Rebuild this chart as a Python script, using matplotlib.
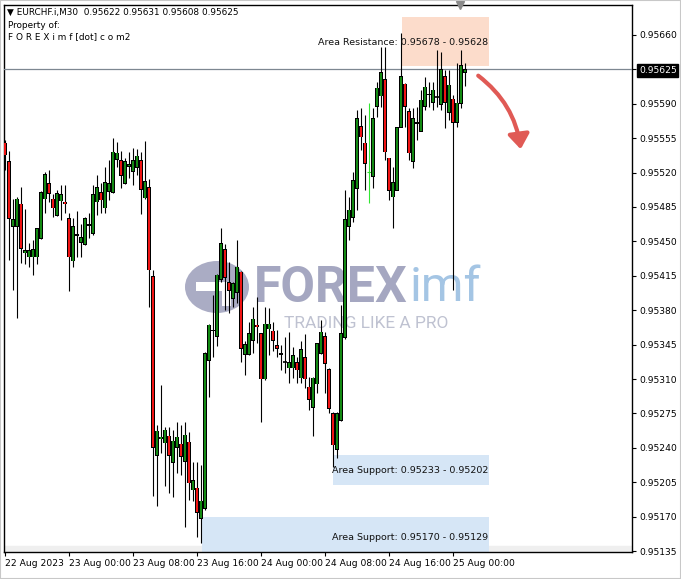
import matplotlib
matplotlib.use("Agg")
import matplotlib.pyplot as plt
from matplotlib.patches import Rectangle, FancyArrowPatch, Ellipse

# ---------------- data (EURCHF.i, M30) ----------------
opens = [0.95550, 0.95531, 0.95465, 0.95465, 0.95488, 0.95438, 0.95434, 0.95434, 0.95434, 0.95453,
         0.95493, 0.95509, 0.95493, 0.95476, 0.95491, 0.95490, 0.95473, 0.95430, 0.95456, 0.95449,
         0.95447, 0.95466, 0.95458, 0.95490, 0.95500, 0.95484, 0.95501, 0.95500, 0.95533, 0.95532,
         0.95509, 0.95526, 0.95521, 0.95525, 0.95532, 0.95494, 0.95505, 0.95414, 0.95232, 0.95249,
         0.95245, 0.95252, 0.95225, 0.95240, 0.95244, 0.95226, 0.95246, 0.95197, 0.95199, 0.95168,
         0.95178, 0.95329, 0.95359, 0.95353, 0.95411, 0.95442, 0.95408, 0.95392, 0.95398, 0.95419,
         0.95335, 0.95335, 0.95349, 0.95365, 0.95356, 0.95310, 0.95361, 0.95359, 0.95344, 0.95336,
         0.95327, 0.95321, 0.95321, 0.95327, 0.95311, 0.95332, 0.95302, 0.95281, 0.95305, 0.95336,
         0.95353, 0.95320, 0.95275, 0.95238, 0.95268, 0.95352, 0.95465, 0.95474, 0.95504, 0.95567,
         0.95550, 0.95521, 0.95516, 0.95587, 0.95598, 0.95615, 0.95535, 0.95495, 0.95502, 0.95566,
         0.95610, 0.95582, 0.95531, 0.95571, 0.95562, 0.95587, 0.95599, 0.95591, 0.95597, 0.95589,
         0.95618, 0.95581, 0.95595, 0.95571, 0.95590, 0.95622]
highs = [0.95553, 0.95542, 0.95493, 0.95495, 0.95505, 0.95483, 0.95448, 0.95451, 0.95464, 0.95501,
         0.95521, 0.95523, 0.95498, 0.95502, 0.95507, 0.95507, 0.95479, 0.95474, 0.95481, 0.95468,
         0.95475, 0.95479, 0.95507, 0.95518, 0.95509, 0.95526, 0.95533, 0.95555, 0.95551, 0.95542,
         0.95535, 0.95541, 0.95545, 0.95544, 0.95541, 0.95552, 0.95513, 0.95421, 0.95263, 0.95304,
         0.95261, 0.95261, 0.95258, 0.95266, 0.95263, 0.95266, 0.95256, 0.95226, 0.95226, 0.95223,
         0.95337, 0.95366, 0.95395, 0.95417, 0.95464, 0.95447, 0.95429, 0.95409, 0.95451, 0.95420,
         0.95349, 0.95368, 0.95383, 0.95393, 0.95357, 0.95383, 0.95382, 0.95368, 0.95360, 0.95345,
         0.95353, 0.95358, 0.95343, 0.95332, 0.95349, 0.95356, 0.95312, 0.95312, 0.95347, 0.95370,
         0.95358, 0.95321, 0.95276, 0.95276, 0.95385, 0.95502, 0.95495, 0.95521, 0.95584, 0.95586,
         0.95579, 0.95591, 0.95586, 0.95612, 0.95648, 0.95648, 0.95535, 0.95526, 0.95566, 0.95662,
         0.95611, 0.95586, 0.95586, 0.95587, 0.95604, 0.95617, 0.95612, 0.95612, 0.95645, 0.95643,
         0.95624, 0.95624, 0.95599, 0.95632, 0.95645, 0.95631]
lows = [0.95523, 0.95431, 0.95401, 0.95372, 0.95428, 0.95427, 0.95424, 0.95416, 0.95427, 0.95452,
        0.95479, 0.95490, 0.95475, 0.95476, 0.95472, 0.95479, 0.95400, 0.95424, 0.95434, 0.95434,
        0.95446, 0.95453, 0.95457, 0.95477, 0.95479, 0.95479, 0.95492, 0.95499, 0.95526, 0.95504,
        0.95508, 0.95514, 0.95507, 0.95518, 0.95478, 0.95493, 0.95383, 0.95191, 0.95181, 0.95235,
        0.95201, 0.95194, 0.95190, 0.95214, 0.95212, 0.95159, 0.95187, 0.95186, 0.95149, 0.95143,
        0.95177, 0.95292, 0.95332, 0.95344, 0.95409, 0.95380, 0.95377, 0.95383, 0.95387, 0.95327,
        0.95314, 0.95334, 0.95336, 0.95347, 0.95266, 0.95309, 0.95334, 0.95338, 0.95332, 0.95319,
        0.95316, 0.95306, 0.95311, 0.95306, 0.95306, 0.95301, 0.95278, 0.95252, 0.95296, 0.95335,
        0.95296, 0.95275, 0.95220, 0.95230, 0.95267, 0.95351, 0.95451, 0.95470, 0.95482, 0.95543,
        0.95502, 0.95489, 0.95504, 0.95577, 0.95587, 0.95533, 0.95492, 0.95464, 0.95502, 0.95566,
        0.95566, 0.95533, 0.95525, 0.95553, 0.95562, 0.95584, 0.95587, 0.95584, 0.95587, 0.95584,
        0.95565, 0.95574, 0.95401, 0.95566, 0.95586, 0.95608]
closes = [0.95538, 0.95473, 0.95472, 0.95493, 0.95443, 0.95441, 0.95441, 0.95442, 0.95463, 0.95500,
          0.95518, 0.95499, 0.95484, 0.95499, 0.95498, 0.95488, 0.95434, 0.95465, 0.95457, 0.95454,
          0.95473, 0.95467, 0.95498, 0.95505, 0.95492, 0.95510, 0.95509, 0.95541, 0.95540, 0.95517,
          0.95531, 0.95528, 0.95532, 0.95537, 0.95503, 0.95511, 0.95421, 0.95240, 0.95257, 0.95251,
          0.95258, 0.95232, 0.95247, 0.95251, 0.95231, 0.95253, 0.95204, 0.95207, 0.95174, 0.95186,
          0.95336, 0.95365, 0.95360, 0.95416, 0.95448, 0.95413, 0.95400, 0.95407, 0.95424, 0.95341,
          0.95345, 0.95356, 0.95371, 0.95363, 0.95310, 0.95366, 0.95366, 0.95349, 0.95341, 0.95335,
          0.95327, 0.95327, 0.95334, 0.95319, 0.95340, 0.95310, 0.95289, 0.95311, 0.95346, 0.95358,
          0.95326, 0.95280, 0.95243, 0.95275, 0.95356, 0.95472, 0.95482, 0.95512, 0.95575, 0.95556,
          0.95529, 0.95521, 0.95575, 0.95606, 0.95622, 0.95541, 0.95502, 0.95510, 0.95566, 0.95618,
          0.95587, 0.95540, 0.95575, 0.95570, 0.95594, 0.95607, 0.95600, 0.95604, 0.95597, 0.95625,
          0.95591, 0.95609, 0.95571, 0.95591, 0.95629, 0.95625]

time_tick_bars = [0, 16, 32, 48, 64, 80, 96, 112]
time_tick_labels = ["22 Aug 2023", "23 Aug 00:00", "23 Aug 08:00", "23 Aug 16:00",
                    "24 Aug 00:00", "24 Aug 08:00", "24 Aug 16:00", "25 Aug 00:00"]
price_ticks = [0.95135, 0.95170, 0.95205, 0.95240, 0.95275, 0.95310, 0.95345, 0.95380,
               0.95415, 0.95450, 0.95485, 0.95520, 0.95555, 0.95590, 0.95625, 0.95660]
current_price = 0.95625
resistance_zone = (0.95628, 0.95678)
support_zone_1 = (0.95202, 0.95233)
support_zone_2 = (0.95129, 0.95170)
lime_doji_bars = [91]

# ---------------- figure ----------------
W, H = 681, 579
fig = plt.figure(figsize=(W / 100, H / 100), dpi=100)
fig.patch.set_facecolor("white")
ax = fig.add_axes([4 / W, 1 - 552 / H, 628 / W, 547 / H])
ax.set_facecolor("white")
ax.set_xlim(-0.25, 156.75)
ax.set_ylim(0.951340, 0.956905)

FONT = "DejaVu Sans"


def fx(px):
    return px / W


def fy(py):
    return 1 - py / H


# light grey strip at bottom of the chart
ax.axhspan(0.951340, 0.95140, color="#efefef", zorder=0)

# zones
ax.add_patch(Rectangle((99.25, resistance_zone[0]), 121 - 99.25, resistance_zone[1] - resistance_zone[0],
                       facecolor="#fcdccb", edgecolor="none", zorder=1))
ax.add_patch(Rectangle((82.0, support_zone_1[0]), 121 - 82.0, support_zone_1[1] - support_zone_1[0],
                       facecolor="#d6e6f6", edgecolor="none", zorder=1))
ax.add_patch(Rectangle((49.25, support_zone_2[0]), 121 - 49.25, support_zone_2[1] - support_zone_2[0],
                       facecolor="#d6e6f6", edgecolor="none", zorder=1))

ax.text(120.8, 0.95652, "Area Resistance: %.5f - %.5f" % (resistance_zone[1], resistance_zone[0]),
        ha="right", va="center", fontsize=6.8, family=FONT, color="#111111", zorder=6)
ax.text(120.8, 0.95217, "Area Support: %.5f - %.5f" % (support_zone_1[1], support_zone_1[0]),
        ha="right", va="center", fontsize=6.8, family=FONT, color="#111111", zorder=6)
ax.text(120.8, 0.95149, "Area Support: %.5f - %.5f" % (support_zone_2[1], support_zone_2[0]),
        ha="right", va="center", fontsize=6.8, family=FONT, color="#111111", zorder=6)

# ---------------- watermark (behind candles) ----------------
wm = dict(transform=fig.transFigure, zorder=2)
ax.add_artist(Ellipse((fx(217), fy(287)), 64 / W, 52 / H, facecolor="#9597b6",
                      edgecolor="none", alpha=0.8, **wm))
ax.add_artist(Rectangle((fx(196), fy(291)), 34 / W, 9 / H, facecolor="white",
                        edgecolor="none", **wm))
ax.add_artist(Rectangle((fx(222), fy(306)), 9 / W, 17 / H, facecolor="white",
                        edgecolor="none", **wm))
ax.text(fx(254), fy(288), "FOREX", fontsize=36, fontweight="bold", family="Roboto",
        color="#9598b6", alpha=0.85, ha="left", va="center", **wm)
ax.text(fx(410), fy(288), "imf", fontsize=35, family="Roboto",
        color="#94bbe0", alpha=0.85, ha="left", va="center", **wm)
ax.text(fx(284), fy(323), "TRADING LIKE A PRO", fontsize=12.5, family="Roboto",
        color="#bfc2d1", ha="left", va="center", **wm)

# ---------------- current price line ----------------
ax.axhline(current_price, color="#7d8791", lw=0.9, zorder=3)

# ---------------- candles ----------------
bw_outer = 0.82
bw_inner = 0.42
inset = 0.0000065
for i, (o, h, l, c) in enumerate(zip(opens, highs, lows, closes)):
    if i in lime_doji_bars:
        ax.vlines(i, l, h, color="#32e632", lw=0.8, zorder=5)
        ax.hlines(o, i - bw_outer / 2, i + bw_outer / 2, color="#32e632", lw=0.8, zorder=5)
        continue
    ax.vlines(i, l, h, color="black", lw=0.8, zorder=4)
    lo, hi = min(o, c), max(o, c)
    if hi - lo < 1e-9:
        ax.hlines(o, i - bw_outer / 2, i + bw_outer / 2, color="black", lw=1.2, zorder=5)
        continue
    col = "#138a13" if c > o else "#f01414"
    ax.add_patch(Rectangle((i - bw_outer / 2, lo - 0.000003), bw_outer, hi - lo + 0.000006,
                           facecolor="black", edgecolor="none", zorder=5))
    if hi - lo > 2 * inset:
        ax.add_patch(Rectangle((i - bw_inner / 2, lo + inset - 0.000003), bw_inner,
                               hi - lo - 2 * inset + 0.000006,
                               facecolor=col, edgecolor="none", zorder=6))

# ---------------- axes styling ----------------
for s in ax.spines.values():
    s.set_color("black")
    s.set_linewidth(1.0)
ax.yaxis.tick_right()
ax.set_yticks(price_ticks)
ax.set_yticklabels(["%.5f" % p for p in price_ticks])
ax.tick_params(axis="y", direction="out", length=3, width=0.8, pad=2, labelsize=6.6,
               colors="black")
for lab in ax.get_yticklabels():
    lab.set_family(FONT)
cur_idx = price_ticks.index(current_price)
lab = ax.get_yticklabels()[cur_idx]
lab.set_color("white")
lab.set_bbox(dict(facecolor="black", edgecolor="black", pad=1.2))

ax.set_xticks(time_tick_bars)
ax.set_xticklabels(time_tick_labels, ha="left")
ax.tick_params(axis="x", direction="out", length=3, width=0.8, pad=2, labelsize=6.6)
for lab in ax.get_xticklabels():
    lab.set_family(FONT)

# chart-shift marker at top
ax.plot([113.8], [0.956905], marker="v", markersize=6, color="#8a8a8a", clip_on=False,
        zorder=7)

# ---------------- header texts ----------------
fig.text(fx(7), fy(12), "\u25bc EURCHF.i,M30  %.5f %.5f %.5f %.5f" % (opens[-1], highs[-1], lows[-1], closes[-1]),
         fontsize=6.4, family=FONT, ha="left", va="center", color="black")
fig.text(fx(8), fy(25), "Property of:", fontsize=6.4, family=FONT, ha="left", va="center")
fig.text(fx(8), fy(37), "F O R E X i m f [dot] c o m2", fontsize=6.4, family=FONT,
         ha="left", va="center")

# ---------------- red arrow ----------------
arr = FancyArrowPatch((fx(476), fy(74)), (fx(521), fy(152)), transform=fig.transFigure,
                      connectionstyle="arc3,rad=-0.22", arrowstyle="-|>,head_length=0.55,head_width=0.4",
                      mutation_scale=16, color="#e05a55", lw=3.0, zorder=8)
fig.add_artist(arr)

# outer window border
fig.add_artist(Rectangle((0, 0), 1, 1, transform=fig.transFigure, facecolor="none",
                         edgecolor="#c8c8c8", lw=1.5))

fig.savefig("out.png", dpi=100)
